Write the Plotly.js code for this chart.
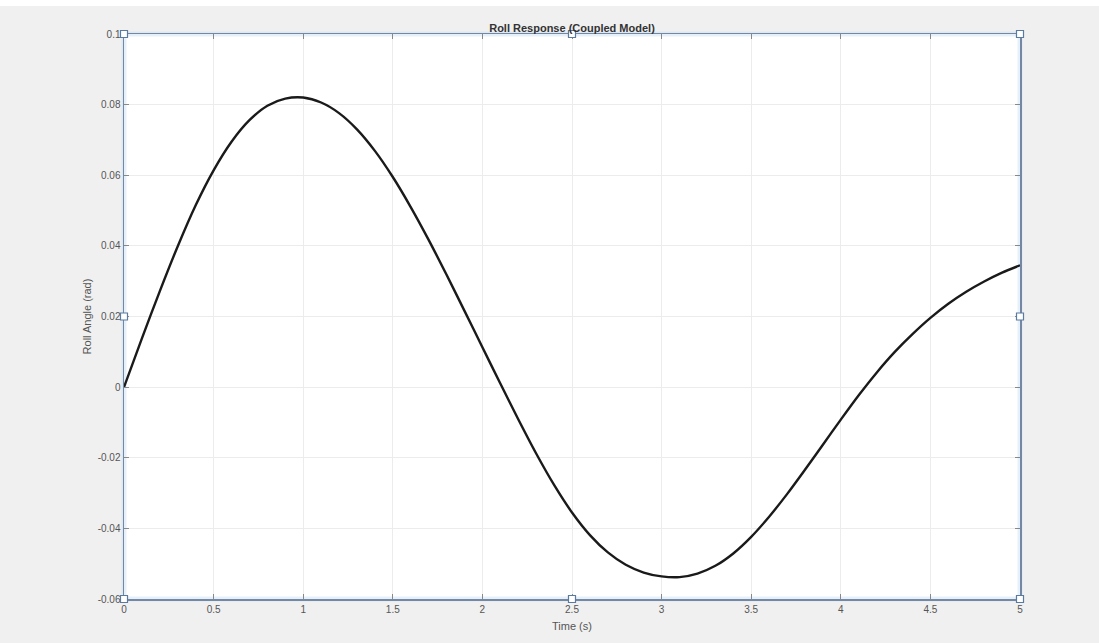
<!DOCTYPE html>
<html>
<head>
<meta charset="utf-8">
<script src="https://cdn.plot.ly/plotly-3.0.1.min.js"></script>
<style>
  html, body { margin: 0; padding: 0; background: #ffffff; }
  #chart { width: 1099px; height: 637px; margin-top: 6px; }
</style>
</head>
<body>
<div id="chart"></div>
<script>
// Time samples (s)
const timeS = [0.0,0.1,0.2,0.3,0.4,0.5,0.6,0.7,0.8,0.9,
               1.0,1.1,1.2,1.3,1.4,1.5,1.6,1.7,1.8,1.9,
               2.0,2.1,2.2,2.3,2.4,2.5,2.6,2.7,2.8,2.9,
               3.0,3.1,3.2,3.3,3.4,3.5,3.6,3.7,3.8,3.9,
               4.0,4.1,4.2,4.3,4.4,4.5,4.6,4.7,4.8,4.9,5.0];
// Roll angle (rad)
const rollRad = [0.0000,0.0138,0.0272,0.0399,0.0515,0.0614,0.0695,0.0756,0.0797,0.0817,
                 0.0820,0.0806,0.0776,0.0730,0.0669,0.0595,0.0510,0.0417,0.0318,0.0216,
                 0.0113,0.0010,-0.0091,-0.0188,-0.0277,-0.0355,-0.0419,-0.0468,-0.0503,-0.0525,
                 -0.0536,-0.0538,-0.0528,-0.0506,-0.0471,-0.0424,-0.0367,-0.0303,-0.0234,-0.0163,
                 -0.0092,-0.0023,0.0041,0.0099,0.0150,0.0196,0.0236,0.0270,0.0299,0.0324,0.0345];

const xTickVals = [0,0.5,1,1.5,2,2.5,3,3.5,4,4.5,5];
const xTickText = ['0','0.5','1','1.5','2','2.5','3','3.5','4','4.5','5'];
const yTickVals = [0.1,0.08,0.06,0.04,0.02,0,-0.02,-0.04,-0.06];
const yTickText = ['0.1','0.08','0.06','0.04','0.02','0','-0.02','-0.04','-0.06'];

const titleText = 'Roll Response (Coupled Model)';
const xTitle = 'Time (s)';
const yTitle = 'Roll Angle (rad)';

const axisColor = '#7488a3';
const tickFont = {family: 'Liberation Sans, Arial, sans-serif', size: 10, color: '#555555'};

const trace = {
  x: timeS, y: rollRad, type: 'scatter', mode: 'lines',
  line: {color: '#1a1a1a', width: 2.4, shape: 'spline', smoothing: 0.8},
  hoverinfo: 'x+y'
};

// selection handles (decorative) at corners and midpoints of the axes box
const handlePos = [[0,0],[0.5,0],[1,0],[0,0.5],[1,0.5],[0,1],[0.5,1],[1,1]];
const shapes = [];
shapes.push({type:'rect', xref:'paper', yref:'paper', x0:0, x1:1, y0:0, y1:1,
  line:{color:'rgba(200,222,243,0.45)', width:5}, layer:'below'});
handlePos.forEach(p => {
  shapes.push({type:'rect', xref:'paper', yref:'paper',
    xsizemode:'pixel', ysizemode:'pixel', xanchor:p[0], yanchor:p[1],
    x0:-3.5, x1:3.5, y0:-3.5, y1:3.5,
    fillcolor:'#ffffff', line:{color:'#5a7aa0', width:1.2}, layer:'above'});
});

const layout = {
  width: 1099, height: 637,
  paper_bgcolor: '#f0f0f0',
  plot_bgcolor: '#ffffff',
  margin: {l: 124, r: 79, t: 28, b: 44, pad: 0},
  showlegend: false,
  title: {
    text: '<b>' + titleText + '</b>',
    font: {family: 'Liberation Sans, Arial, sans-serif', size: 11, color: '#333333'},
    x: 0.5, xanchor: 'center', xref: 'paper',
    y: 1, yanchor: 'bottom', yref: 'paper', pad: {b: 2}
  },
  xaxis: {
    range: [0, 5], tickvals: xTickVals, ticktext: xTickText,
    showgrid: true, gridcolor: '#ececec', gridwidth: 1,
    zeroline: false, showline: true, linecolor: axisColor, linewidth: 1.5, mirror: 'ticks',
    ticks: 'inside', ticklen: 5, tickcolor: '#888888', tickwidth: 1,
    tickfont: tickFont,
    title: {text: xTitle, font: {family: 'Liberation Sans, Arial, sans-serif', size: 11, color: '#555555'}, standoff: 9}
  },
  yaxis: {
    range: [-0.06, 0.1], tickvals: yTickVals, ticktext: yTickText,
    showgrid: true, gridcolor: '#ececec', gridwidth: 1,
    zeroline: false, showline: true, linecolor: axisColor, linewidth: 1.5, mirror: 'ticks',
    ticks: 'inside', ticklen: 5, tickcolor: '#888888', tickwidth: 1,
    tickfont: tickFont,
    title: {text: yTitle, font: {family: 'Liberation Sans, Arial, sans-serif', size: 11, color: '#555555'}, standoff: 4}
  },
  shapes: shapes
};

Plotly.newPlot('chart', [trace], layout, {displayModeBar: false, staticPlot: true});
</script>
</body>
</html>
